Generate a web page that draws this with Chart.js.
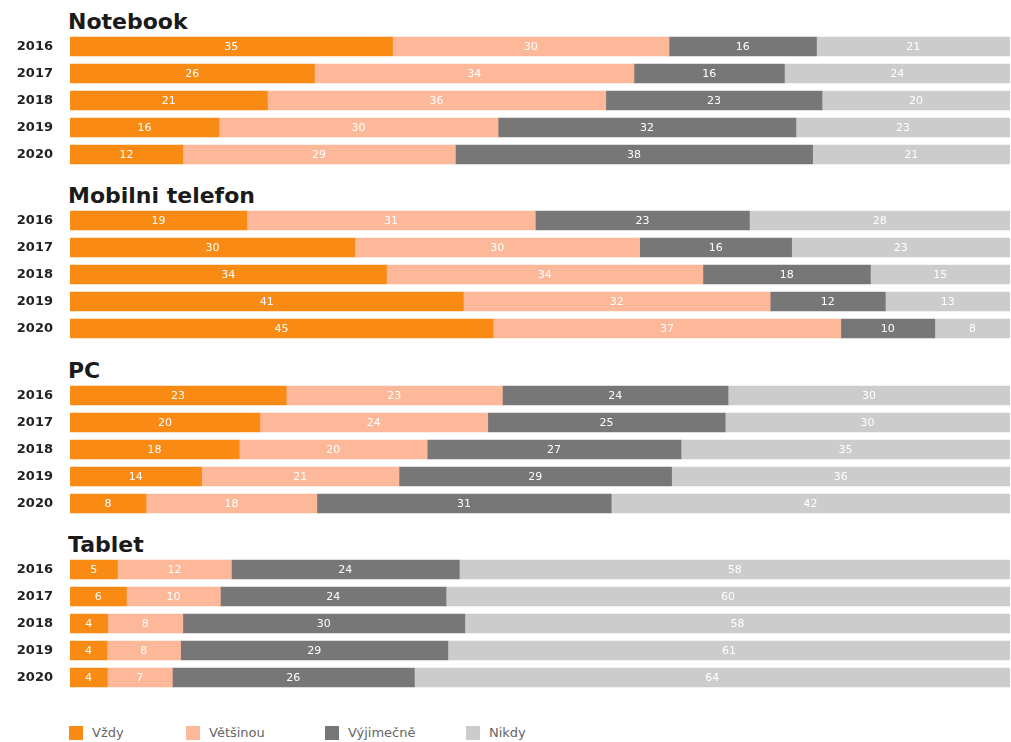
<!DOCTYPE html>
<html>
<head>
<meta charset="utf-8">
<script src="https://cdn.jsdelivr.net/npm/chart.js@4"></script>
<style>
  html, body { margin:0; padding:0; background:#fff; }
  body { width:1011px; height:742px; position:relative; overflow:hidden; font-family:"DejaVu Sans", sans-serif; }
  .title { position:absolute; left:68px; height:26px; line-height:26px; font-weight:bold; font-size:22px; color:#1a1a1a; white-space:nowrap; }
  .box { position:absolute; left:0; width:1011px; height:135px; }
  .box canvas { display:block; }
  .legend { position:absolute; top:726px; left:0; width:1011px; height:16px; }
  .li { position:absolute; top:0; height:14px; line-height:14px; font-size:13px; color:#666; white-space:nowrap; }
  .sw { position:absolute; top:0; width:14px; height:14px; }
</style>
</head>
<body>
<script>
// ---- DATA ----
const years = ['2016','2017','2018','2019','2020'];
const groups = ['Notebook','Mobilni telefon','PC','Tablet'];
const seriesNames = ['Vždy','Většinou','Výjimečně','Nikdy'];

const notebookVzdy      = [35, 26, 21, 16, 12];
const notebookVetsinou  = [30, 34, 36, 30, 29];
const notebookVyjimecne = [16, 16, 23, 32, 38];
const notebookNikdy     = [21, 24, 20, 23, 21];

const mobilVzdy      = [19, 30, 34, 41, 45];
const mobilVetsinou  = [31, 30, 34, 32, 37];
const mobilVyjimecne = [23, 16, 18, 12, 10];
const mobilNikdy     = [28, 23, 15, 13, 8];

const pcVzdy      = [23, 20, 18, 14, 8];
const pcVetsinou  = [23, 24, 20, 21, 18];
const pcVyjimecne = [24, 25, 27, 29, 31];
const pcNikdy     = [30, 30, 35, 36, 42];

const tabletVzdy      = [5, 6, 4, 4, 4];
const tabletVetsinou  = [12, 10, 8, 8, 7];
const tabletVyjimecne = [24, 24, 30, 29, 26];
const tabletNikdy     = [58, 60, 58, 61, 64];

// ---- STYLE ----
const colors = ['#F98A13', '#FCB899', '#777777', '#CCCCCC'];
const groupSeries = [
  [notebookVzdy, notebookVetsinou, notebookVyjimecne, notebookNikdy],
  [mobilVzdy, mobilVetsinou, mobilVyjimecne, mobilNikdy],
  [pcVzdy, pcVetsinou, pcVyjimecne, pcNikdy],
  [tabletVzdy, tabletVetsinou, tabletVyjimecne, tabletNikdy]
];
const rowCenters = [46.5, 220.5, 395, 569.5];

const valueLabels = {
  id: 'valueLabels',
  afterDatasetsDraw(chart) {
    const ctx = chart.ctx;
    ctx.save();
    ctx.font = '11px "DejaVu Sans", sans-serif';
    ctx.fillStyle = '#ffffff';
    ctx.textAlign = 'center';
    ctx.textBaseline = 'middle';
    chart.data.datasets.forEach((ds, di) => {
      const meta = chart.getDatasetMeta(di);
      meta.data.forEach((el, i) => {
        const cx = (el.x + el.base) / 2;
        ctx.fillText(String(ds.raw[i]), cx, el.y + 0.5);
      });
    });
    ctx.restore();
  }
};

groups.forEach((g, gi) => {
  const c = rowCenters[gi];
  const t = document.createElement('div');
  t.className = 'title';
  t.style.top = (c - 24.5 - 13) + 'px';
  t.textContent = g;
  document.body.appendChild(t);

  const box = document.createElement('div');
  box.className = 'box';
  box.style.top = (c - 13.5) + 'px';
  const cv = document.createElement('canvas');
  cv.width = 1011;
  cv.height = 135;
  cv.style.width = '1011px';
  cv.style.height = '135px';
  box.appendChild(cv);
  document.body.appendChild(box);

  const series = groupSeries[gi];
  const totals = years.map((y, i) => series.reduce((s, arr) => s + arr[i], 0));
  const datasets = series.map((arr, si) => ({
    label: seriesNames[si],
    raw: arr,
    data: arr.map((v, i) => v / totals[i] * 100),
    backgroundColor: colors[si],
    borderWidth: 0,
    barThickness: 19
  }));

  new Chart(cv, {
    type: 'bar',
    data: { labels: years, datasets },
    options: {
      indexAxis: 'y',
      responsive: false,
      animation: false,
      devicePixelRatio: 1,
      layout: { padding: { left: 0, right: 1, top: 0, bottom: 0 } },
      plugins: { legend: { display: false }, title: { display: false }, tooltip: { enabled: false } },
      scales: {
        x: { stacked: true, min: 0, max: 100, display: false },
        y: {
          stacked: true,
          grid: { display: false, drawTicks: false },
          border: { display: false },
          ticks: {
            color: '#222',
            font: { family: '"DejaVu Sans", sans-serif', size: 13, weight: 'bold' },
            padding: 17
          },
          afterFit(scale) {
            scale.width = 70;
            scale.paddingTop = 0;
            scale.paddingBottom = 0;
          }
        }
      }
    },
    plugins: [valueLabels]
  });
});

// legend
const legend = document.createElement('div');
legend.className = 'legend';
const lx = [69, 186, 325, 466];
seriesNames.forEach((n, i) => {
  const sw = document.createElement('div');
  sw.className = 'sw';
  sw.style.left = lx[i] + 'px';
  sw.style.background = colors[i];
  legend.appendChild(sw);
  const tx = document.createElement('div');
  tx.className = 'li';
  tx.style.left = (lx[i] + 23) + 'px';
  tx.textContent = n;
  legend.appendChild(tx);
});
document.body.appendChild(legend);
</script>
</body>
</html>
